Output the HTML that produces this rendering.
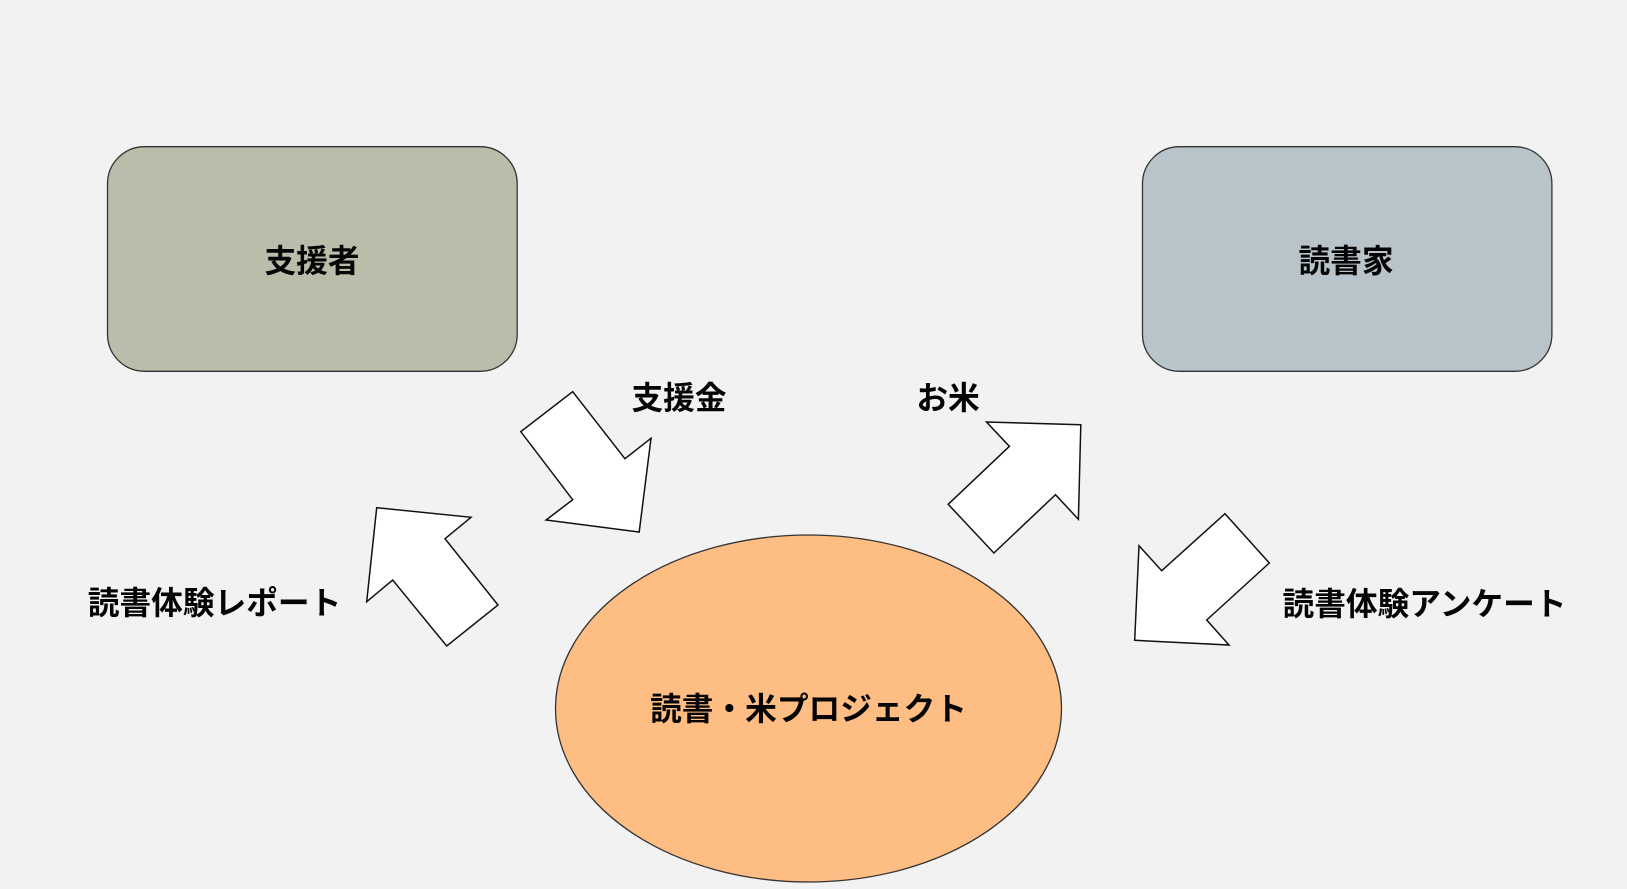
<!DOCTYPE html>
<html lang="ja">
<head>
<meta charset="utf-8">
<title>読書・米プロジェクト</title>
<style>
html,body{margin:0;padding:0;background:#f2f2f2;width:1627px;height:889px;overflow:hidden}
svg{display:block}
text{font-family:"Liberation Sans","Noto Sans CJK JP",sans-serif;font-weight:700;font-size:31.7px;fill:#050505;text-anchor:middle;filter:blur(0.35px)}
.s{stroke:#333;stroke-width:1.3}
.a{fill:#fff;stroke:#111;stroke-width:1.5;stroke-linejoin:miter}
</style>
</head>
<body>
<svg width="1627" height="889" viewBox="0 0 1627 889" xmlns="http://www.w3.org/2000/svg">
<rect width="1627" height="889" fill="#f2f2f2"/>
<rect class="s" x="107.5" y="146.7" width="409.7" height="224.6" rx="37" ry="37" fill="#b9beaa"/>
<rect class="s" x="1142.5" y="146.7" width="409.4" height="224.6" rx="37" ry="37" fill="#b8c4c9"/>
<ellipse class="s" cx="808.5" cy="708.5" rx="253" ry="173.5" fill="#fdbd83"/>
<polygon class="a" points="572.7,391.7 624.9,458.7 651,438.3 639.2,532 546.1,520 572.7,499.7 520.8,431.7"/>
<polygon class="a" points="986.5,422 1080.8,424.7 1078.4,519.3 1055.5,494.7 993.9,553 948.2,504.3 1009.4,446.3"/>
<polygon class="a" points="376.7,507.7 471,517.3 445,538.7 498,605 446.7,646 392.7,580 366.7,601.7"/>
<polygon class="a" points="1225,513.7 1269.3,563 1206.7,620 1229,645 1134.7,640.3 1139,545.7 1161.7,570.7"/>
<text x="312" y="272">支援者</text>
<text x="1346" y="272">読書家</text>
<text x="679" y="409">支援金</text>
<text x="948" y="409">お米</text>
<text x="214.5" y="614">読書体験レポート</text>
<text x="1424.5" y="615">読書体験アンケート</text>
<text x="808.5" y="720">読書・米プロジェクト</text>
</svg>
</body>
</html>
